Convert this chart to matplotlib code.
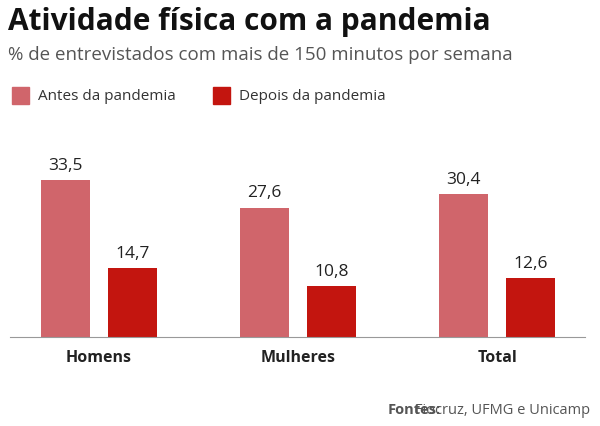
import matplotlib
matplotlib.use("Agg")
import matplotlib.pyplot as plt
import numpy as np

categorias = ["Homens", "Mulheres", "Total"]
antes = [33.5, 27.6, 30.4]
depois = [14.7, 10.8, 12.6]
cor_antes = "#d0656b"
cor_depois = "#c3150f"

plt.rcParams["font.family"] = ["Open Sans", "DejaVu Sans"]
fig = plt.figure(figsize=(6, 4.26), dpi=100)
ax = fig.add_axes([10/600, 1-337/426, 575/600, 197/426])

x = np.arange(len(categorias))
w = 0.246
off = 0.168
b1 = ax.bar(x - off, antes, w, color=cor_antes)
b2 = ax.bar(x + off, depois, w, color=cor_depois)
for bars, vals in [(b1, antes), (b2, depois)]:
    for r, v in zip(bars, vals):
        ax.text(r.get_x() + r.get_width()/2, v + 1.3, f"{v:.1f}".replace(".", ","),
                ha="center", va="bottom", fontsize=12.5, color="#222222")

ax.set_xlim(-0.447, 2.442)
ax.set_ylim(0, 42)
for s in ["top", "right", "left"]:
    ax.spines[s].set_visible(False)
ax.spines["bottom"].set_color("#999999")
ax.set_yticks([])
ax.set_xticks(x)
ax.set_xticklabels(categorias, fontsize=11.5, fontweight="bold", color="#222222")
ax.tick_params(axis="x", length=0, pad=9)

fig.text(8/600, 1-22/426, "Atividade física com a pandemia", fontsize=21.5, fontweight="bold",
         va="center", color="#111111")
fig.text(8/600, 1-55/426, "% de entrevistados com mais de 150 minutos por semana", fontsize=13.5,
         va="center", color="#555555")

fig.patches.append(plt.Rectangle((12/600, 1-104/426), 17/600, 17/426, color=cor_antes,
                                 transform=fig.transFigure))
fig.text(38/600, 1-97/426, "Antes da pandemia", fontsize=11, va="center", color="#333333")
fig.patches.append(plt.Rectangle((213/600, 1-104/426), 17/600, 17/426, color=cor_depois,
                                 transform=fig.transFigure))
fig.text(239/600, 1-97/426, "Depois da pandemia", fontsize=11, va="center", color="#333333")

fig.text(590/600, 1-410/426, "Fiocruz, UFMG e Unicamp", fontsize=10.5, ha="right",
         va="center", color="#555555")
fig.text(441/600, 1-410/426, "Fontes:", fontsize=10.5, ha="right", fontweight="bold",
         va="center", color="#555555")

fig.savefig("out.png", dpi=100)
